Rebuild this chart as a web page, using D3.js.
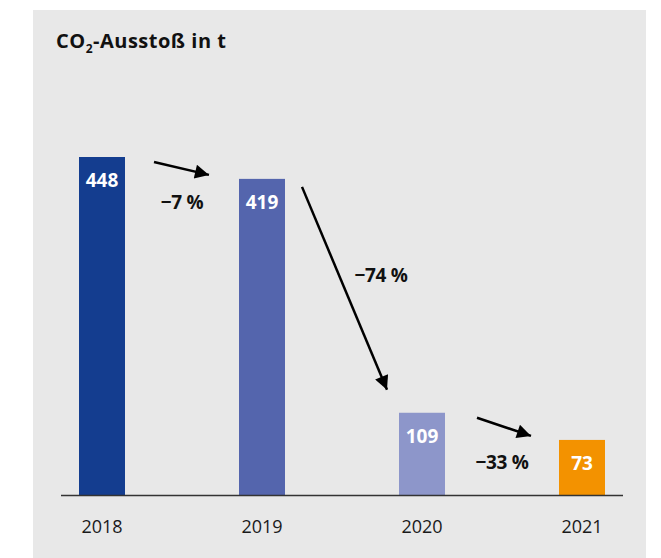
<!DOCTYPE html>
<html>
<head>
<meta charset="utf-8">
<script src="https://cdn.jsdelivr.net/npm/d3@7"></script>
<style>
  body { margin: 0; background: #fff; }
  svg text { font-family: "Open Sans", "DejaVu Sans", sans-serif; }
</style>
</head>
<body>
<div id="chart"></div>
<script>
const years = ["2018", "2019", "2020", "2021"];
const values = [448, 419, 109, 73];
const barColors = ["#143d8f", "#5465ad", "#8d96ca", "#f39200"];
const changes = ["\u22127 %", "\u221274 %", "\u221233 %"];

const W = 661, H = 558;

const svg = d3.select("#chart")
  .append("svg")
  .attr("width", W)
  .attr("height", H);

// grey panel
svg.append("rect")
  .attr("x", 33).attr("y", 10)
  .attr("width", 613).attr("height", H - 10)
  .attr("fill", "#e8e8e8");

// title
const title = svg.append("text")
  .attr("x", 56).attr("y", 48)
  .attr("font-weight", "bold")
  .attr("font-size", 20)
  .attr("letter-spacing", 0.5)
  .attr("fill", "#111");
title.append("tspan").text("CO");
title.append("tspan").attr("font-size", 12).attr("dy", 5).text("2");
title.append("tspan").attr("dy", -5).text("-Ausstoß in t");

const x = d3.scaleBand()
  .domain(years)
  .range([22, 662])
  .paddingInner(0.7125)
  .paddingOuter(0.35625);

const y = d3.scaleLinear()
  .domain([0, 448])
  .range([495, 157]);

const data = years.map((yr, i) => ({ year: yr, value: values[i], color: barColors[i] }));

svg.selectAll(".bar")
  .data(data)
  .enter()
  .append("rect")
  .attr("class", "bar")
  .attr("x", d => x(d.year))
  .attr("y", d => y(d.value))
  .attr("width", x.bandwidth())
  .attr("height", d => y(0) - y(d.value))
  .attr("fill", d => d.color);

svg.selectAll(".val")
  .data(data)
  .enter()
  .append("text")
  .attr("class", "val")
  .attr("x", d => x(d.year) + x.bandwidth() / 2)
  .attr("y", d => y(d.value) + 30)
  .attr("text-anchor", "middle")
  .attr("font-weight", "bold")
  .attr("font-size", 19)
  .attr("fill", "#fff")
  .text(d => d.value);

// baseline
svg.append("line")
  .attr("x1", 61).attr("x2", 623)
  .attr("y1", y(0) + 0.5).attr("y2", y(0) + 0.5)
  .attr("stroke", "#333")
  .attr("stroke-width", 1.5);

// year labels
const xAxis = svg.append("g")
  .attr("transform", `translate(0,${y(0)})`)
  .call(d3.axisBottom(x).tickSize(0).tickPadding(0));
xAxis.select(".domain").remove();
xAxis.selectAll("text")
  .attr("dy", null)
  .attr("y", 38)
  .attr("font-size", 18)
  .attr("fill", "#1a1a1a");

// arrows
svg.append("defs").append("marker")
  .attr("id", "head")
  .attr("viewBox", "0 0 10 10")
  .attr("refX", 10).attr("refY", 5)
  .attr("markerUnits", "userSpaceOnUse")
  .attr("markerWidth", 20).attr("markerHeight", 14)
  .attr("orient", "auto")
  .append("path")
  .attr("d", "M0,0 L10,5 L0,10 Z")
  .attr("fill", "#000");

const bw = x.bandwidth();
const arrows = [
  [[x(years[0]) + bw + 29, y(values[0]) + 5], [x(years[1]) - 30, y(values[1]) - 4]],
  [[x(years[1]) + bw + 17, y(values[1]) + 8], [x(years[2]) - 12, y(values[2]) - 23]],
  [[x(years[2]) + bw + 32, y(values[2]) + 5], [x(years[3]) - 28, y(values[3]) - 4]]
];

svg.selectAll(".arrow")
  .data(arrows)
  .enter()
  .append("line")
  .attr("class", "arrow")
  .attr("x1", d => d[0][0]).attr("y1", d => d[0][1])
  .attr("x2", d => d[1][0]).attr("y2", d => d[1][1])
  .attr("stroke", "#000")
  .attr("stroke-width", 2.5)
  .attr("marker-end", "url(#head)");

// percent labels
const labelPos = [
  [(x(years[0]) + bw + x(years[1])) / 2, y(values[1]) + 30],
  [x(years[1]) + bw + 96, 282],
  [(x(years[2]) + bw + x(years[3])) / 2, y(values[3]) + 29]
];

svg.selectAll(".chg")
  .data(changes)
  .enter()
  .append("text")
  .attr("class", "chg")
  .attr("x", (d, i) => labelPos[i][0])
  .attr("y", (d, i) => labelPos[i][1])
  .attr("text-anchor", "middle")
  .attr("font-weight", "bold")
  .attr("font-size", 19)
  .attr("letter-spacing", -0.3)
  .attr("fill", "#111")
  .text(d => d);
</script>
</body>
</html>
